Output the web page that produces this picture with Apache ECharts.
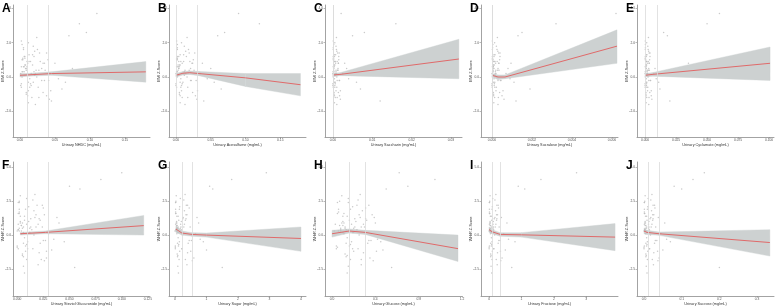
<!DOCTYPE html>
<html>
<head>
<meta charset="utf-8">
<script src="https://cdn.jsdelivr.net/npm/echarts@6.0.0/dist/echarts.min.js"></script>
<style>
html, body { margin: 0; padding: 0; background: #fff; }
#chart { width: 779px; height: 306px; }
</style>
</head>
<body>
<div id="chart"></div>
<script>
var myChart = echarts.init(document.getElementById('chart'));

// outcome values (shared by every panel of a row)
var yTop = [0.3,-0.8,1.2,0.5,-0.2,2.1,0.9,-1.3,0.1,1.6,-0.5,0.7,3.1,-1.0,0.4,1.9,-0.1,0.8,-1.6,1.1,0.2,2.6,-0.6,0.6,1.4,-0.3,0.0,1.8,-1.1,0.9,3.7,0.3,-0.9,1.3,0.5,-0.4,2.3,0.7,-1.4,0.2,1.0,-0.7,1.5,0.4,-0.2,2.0,0.6,-1.2,0.8,1.2,
	0.6,-0.4,1.0,0.2,-1.1,0.8,0.1,1.3,-0.6,0.4,0.9,-0.2,1.7,0.3,-0.9,0.5,1.1,-0.5,0.0,0.7,-1.5,1.4,0.2,-0.3,0.9,0.6,-0.8,1.2,0.4,-0.1,2.4,0.3,-1.2,0.8,0.5,-0.6,1.6,0.1,-0.3,1.0];
var yBot = [0.5,-1.2,1.8,0.3,-0.6,2.4,1.0,-1.9,0.2,1.5,-0.9,0.8,4.6,-1.5,0.6,2.9,-0.3,1.2,-2.2,1.6,0.1,3.4,-1.0,0.7,2.0,-0.5,0.4,2.6,-1.7,1.1,4.1,0.3,-1.3,1.9,0.9,-0.8,3.0,0.6,-2.4,0.2,1.4,-1.1,2.2,0.5,-0.4,2.7,0.8,-1.8,1.3,-2.8,
	0.9,-0.7,1.6,0.4,-1.6,1.2,0.1,2.1,-1.0,0.6,1.4,-0.4,2.5,0.5,-1.4,0.8,1.7,-0.8,0.0,1.0,-2.3,2.2,0.3,-0.5,1.3,0.9,-1.2,1.9,0.6,-0.2,3.6,0.4,-1.8,1.1,0.7,-1.0,2.4,0.2,-0.6,1.5];

// exposure values per panel
var xA = [0.004,0.012,0.02,0.008,0.031,0.002,0.015,0.042,0.006,0.025,0.001,0.018,0.085,0.009,0.036,0.003,0.055,0.011,0.022,0.007,0.048,0.095,0.014,0.005,0.028,0.065,0.003,0.019,0.038,0.01,0.11,0.006,0.033,0.013,0.075,0.002,0.024,0.008,0.045,0.016,0.004,0.06,0.021,0.009,0.035,0.012,0.002,0.027,0.05,0.007,
	0.006,0.015,0.003,0.022,0.011,0.035,0.008,0.018,0.002,0.027,0.013,0.041,0.005,0.02,0.009,0.031,0.004,0.016,0.024,0.007,0.012,0.038,0.001,0.019,0.029,0.01,0.044,0.006,0.023,0.014,0.07,0.003,0.017,0.033,0.009,0.026,0.005,0.021,0.012,0.04];
var xB = [0.002,0.008,0.015,0.004,0.022,0.001,0.011,0.03,0.003,0.018,0.0,0.006,0.12,0.005,0.026,0.002,0.045,0.009,0.013,0.001,0.035,0.07,0.007,0.003,0.019,0.055,0.002,0.012,0.028,0.004,0.09,0.001,0.024,0.006,0.05,0.0,0.016,0.005,0.04,0.01,0.002,0.065,0.014,0.003,0.021,0.008,0.001,0.017,0.038,0.004,
	0.003,0.009,0.001,0.014,0.006,0.024,0.004,0.011,0.001,0.019,0.007,0.029,0.002,0.012,0.005,0.021,0.002,0.008,0.016,0.003,0.006,0.027,0.0,0.01,0.02,0.005,0.031,0.002,0.013,0.007,0.06,0.001,0.009,0.023,0.004,0.017,0.002,0.012,0.006,0.025];
var xC = [0.0003,0.0008,0.0015,0.0002,0.0011,0.0001,0.0006,0.0019,0.0004,0.0009,0.0,0.0005,0.016,0.0003,0.0013,0.0002,0.004,0.0007,0.001,0.0001,0.0025,0.008,0.0005,0.0002,0.0012,0.006,0.0001,0.0008,0.0017,0.0003,0.0021,0.0001,0.0014,0.0004,0.0035,0.0,0.0009,0.0003,0.012,0.0006,0.0002,0.007,0.001,0.0002,0.0016,0.0005,0.0001,0.0011,0.003,0.0004,
	0.0002,0.0006,0.0001,0.0009,0.0004,0.0014,0.0003,0.0007,0.0001,0.0012,0.0005,0.0017,0.0001,0.0008,0.0003,0.0013,0.0002,0.0005,0.001,0.0002,0.0004,0.0016,0.0,0.0006,0.0011,0.0003,0.0019,0.0001,0.0008,0.0004,0.005,0.0001,0.0006,0.0014,0.0002,0.001,0.0001,0.0007,0.0004,0.0015];
var xD = [0.00005,0.0002,0.0004,0.0001,0.0003,0.00002,0.00015,0.0006,0.0001,0.00025,0.0,0.00012,0.0032,0.00008,0.00035,0.00004,0.0009,0.00018,0.0003,0.00003,0.0007,0.0015,0.00014,0.00006,0.00033,0.0011,0.00002,0.00022,0.0005,0.00009,0.0062,0.00003,0.00038,0.0001,0.0008,0.0,0.00027,0.00007,0.0012,0.00016,0.00005,0.0019,0.00029,0.00006,0.00045,0.00013,0.00002,0.00032,0.00095,0.0001,
	0.00004,0.00012,0.00002,0.0002,0.00008,0.00035,0.00006,0.00015,0.00001,0.00028,0.0001,0.00042,0.00003,0.00017,0.00007,0.0003,0.00002,0.00011,0.00024,0.00005,0.00009,0.0004,0.0,0.00014,0.00026,0.00006,0.00055,0.00002,0.00019,0.0001,0.0013,0.00003,0.00013,0.00033,0.00005,0.00022,0.00002,0.00016,0.00008,0.00038];
var xE = [0.0005,0.002,0.004,0.001,0.003,0.0002,0.0015,0.0055,0.0008,0.0025,0.0,0.0012,0.05,0.0007,0.0035,0.0003,0.009,0.0018,0.003,0.0003,0.007,0.015,0.0014,0.0006,0.0033,0.011,0.0002,0.0022,0.005,0.0009,0.06,0.0003,0.0038,0.001,0.008,0.0,0.0027,0.0007,0.02,0.0016,0.0005,0.012,0.0029,0.0006,0.0045,0.0013,0.0002,0.0032,0.035,0.001,
	0.0004,0.0012,0.0002,0.002,0.0008,0.0034,0.0006,0.0015,0.0001,0.0027,0.001,0.0042,0.0003,0.0017,0.0007,0.003,0.0002,0.0011,0.0024,0.0005,0.0009,0.004,0.0,0.0014,0.0026,0.0006,0.005,0.0002,0.0019,0.001,0.018,0.0003,0.0013,0.0033,0.0005,0.0022,0.0002,0.0016,0.0008,0.0037];
var xF = [0.002,0.008,0.016,0.004,0.022,0.001,0.011,0.026,0.006,0.018,0.0,0.009,0.1,0.005,0.024,0.003,0.035,0.013,0.02,0.002,0.03,0.06,0.01,0.004,0.025,0.045,0.001,0.015,0.028,0.007,0.08,0.002,0.021,0.008,0.04,0.0,0.017,0.006,0.055,0.012,0.003,0.033,0.019,0.005,0.027,0.009,0.001,0.023,0.038,0.007,
	0.003,0.009,0.001,0.014,0.006,0.021,0.004,0.011,0.001,0.018,0.007,0.025,0.002,0.012,0.005,0.02,0.002,0.008,0.016,0.003,0.006,0.024,0.0,0.01,0.017,0.005,0.028,0.002,0.013,0.007,0.05,0.001,0.009,0.022,0.004,0.015,0.002,0.012,0.006,0.026];
var xG = [0.05,0.15,0.3,0.08,0.42,0.02,0.2,0.55,0.1,0.35,0.01,0.18,2.9,0.09,0.48,0.04,0.8,0.25,0.38,0.03,0.65,1.2,0.22,0.07,0.45,0.9,0.03,0.28,0.6,0.12,1.8,0.04,0.4,0.14,0.75,0.01,0.32,0.1,1.5,0.24,0.06,1.0,0.36,0.08,0.52,0.17,0.02,0.33,0.7,0.11,
	0.04,0.12,0.02,0.2,0.08,0.35,0.06,0.15,0.01,0.28,0.1,0.45,0.03,0.17,0.07,0.3,0.02,0.11,0.24,0.05,0.09,0.4,0.0,0.14,0.26,0.06,0.5,0.02,0.19,0.1,1.1,0.03,0.13,0.33,0.05,0.22,0.02,0.16,0.08,0.38];
var xH = [0.12,0.2,0.28,0.08,0.33,0.15,0.22,0.38,0.1,0.25,0.05,0.18,0.62,0.14,0.3,0.09,0.42,0.21,0.27,0.11,0.36,0.5,0.19,0.07,0.31,0.45,0.13,0.24,0.35,0.16,0.95,0.06,0.29,0.17,0.4,0.04,0.26,0.12,0.55,0.2,0.1,0.47,0.23,0.08,0.34,0.15,0.03,0.27,0.39,0.14,
	0.09,0.17,0.05,0.23,0.13,0.31,0.11,0.19,0.04,0.27,0.14,0.36,0.07,0.2,0.12,0.29,0.06,0.16,0.25,0.1,0.15,0.34,0.02,0.18,0.26,0.11,0.41,0.06,0.21,0.14,0.7,0.08,0.17,0.32,0.1,0.24,0.05,0.19,0.13,0.37];
var xI = [0.03,0.1,0.2,0.05,0.28,0.01,0.13,0.36,0.07,0.23,0.0,0.12,2.7,0.06,0.31,0.03,0.6,0.16,0.25,0.02,0.45,1.1,0.14,0.05,0.29,0.8,0.02,0.18,0.4,0.08,1.6,0.03,0.26,0.09,0.55,0.01,0.21,0.07,0.7,0.15,0.04,0.5,0.24,0.06,0.34,0.11,0.01,0.22,0.38,0.08,
	0.02,0.08,0.01,0.14,0.05,0.24,0.04,0.1,0.0,0.19,0.07,0.3,0.02,0.12,0.05,0.21,0.01,0.07,0.17,0.03,0.06,0.28,0.0,0.09,0.18,0.04,0.35,0.01,0.13,0.07,0.9,0.02,0.09,0.23,0.03,0.15,0.01,0.11,0.05,0.26];
var xJ = [0.003,0.01,0.02,0.005,0.028,0.001,0.013,0.037,0.007,0.023,0.0,0.012,0.16,0.006,0.031,0.003,0.06,0.016,0.025,0.002,0.045,0.1,0.014,0.005,0.029,0.07,0.002,0.018,0.04,0.008,0.13,0.003,0.026,0.009,0.055,0.001,0.021,0.007,0.2,0.015,0.004,0.05,0.024,0.006,0.034,0.011,0.001,0.022,0.038,0.008,
	0.002,0.008,0.001,0.014,0.005,0.024,0.004,0.01,0.0,0.019,0.007,0.03,0.002,0.012,0.005,0.021,0.001,0.007,0.017,0.003,0.006,0.028,0.0,0.009,0.018,0.004,0.036,0.001,0.013,0.007,0.08,0.002,0.009,0.023,0.003,0.015,0.001,0.011,0.005,0.026];

// fitted curves with 95% CI
var fitXA = [0, 0.01, 0.045, 0.18];    var fitYA = [0.1, 0.12, 0.2, 0.3];     var loA = [0.0, 0.05, 0.1, -0.3];   var hiA = [0.2, 0.2, 0.3, 0.9];
var fitXB = [0, 0.01, 0.02, 0.033, 0.1, 0.179]; var fitYB = [0.1, 0.22, 0.25, 0.2, -0.05, -0.45]; var loB = [0.0, 0.12, 0.15, 0.08, -0.55, -1.1]; var hiB = [0.2, 0.32, 0.35, 0.32, 0.2, 0.2];
var fitXC = [0, 0.0018, 0.032];        var fitYC = [0.12, 0.15, 1.05];        var loC = [0.02, 0.08, -0.1];      var hiC = [0.22, 0.25, 2.2];
var fitXD = [0, 0.0003, 0.00065, 0.00625]; var fitYD = [0.1, 0.0, 0.0, 1.8]; var loD = [0.0, -0.15, -0.1, 0.8]; var hiD = [0.2, 0.12, 0.12, 2.75];
var fitXE = [0, 0.0056, 0.1008];       var fitYE = [0.1, 0.15, 0.8];          var loE = [0.0, 0.05, -0.2];       var hiE = [0.2, 0.25, 1.75];
var fitXF = [0.003, 0.027, 0.121];     var fitYF = [0.1, 0.2, 0.7];           var loF = [0.0, 0.1, 0.0];         var hiF = [0.2, 0.3, 1.45];
var fitXG = [0.03, 0.22, 0.54, 1.0, 4.0]; var fitYG = [0.45, 0.15, 0.05, 0.0, -0.25]; var loG = [0.2, 0.0, -0.08, -0.15, -1.2]; var hiG = [0.7, 0.3, 0.18, 0.15, 0.6];
var fitXH = [0, 0.158, 0.307, 1.163];  var fitYH = [0.1, 0.3, 0.2, -1.0];     var loH = [-0.15, 0.15, 0.05, -1.95]; var hiH = [0.35, 0.45, 0.35, 0.0];
var fitXI = [0, 0.09, 0.34, 1.0, 3.89]; var fitYI = [0.4, 0.25, 0.05, 0.02, -0.15]; var loI = [0.2, 0.1, -0.08, -0.15, -1.15]; var hiI = [0.6, 0.4, 0.18, 0.18, 0.85];
var fitXJ = [0, 0.008, 0.04, 0.334];   var fitYJ = [0.3, 0.2, 0.1, -0.55];    var loJ = [0.1, 0.05, -0.02, -1.55]; var hiJ = [0.5, 0.35, 0.22, 0.4];

// knots (vertical reference lines)
var cutsA = [0.01, 0.045]; var cutsB = [0.001, 0.033]; var cutsC = [0.0003, 0.0018];
var cutsD = [0.00002, 0.00065]; var cutsE = [0.0002, 0.0056]; var cutsF = [0.0066, 0.027];
var cutsG = [0.22, 0.54]; var cutsH = [0.158, 0.307]; var cutsI = [0.09, 0.34]; var cutsJ = [0.008, 0.04];

// tick labels
var yTicksTop = [-2, 0, 2, 4];
var yTicksBot = [-2.5, 0, 2.5, 5];
var ticksA = [0, 0.05, 0.10, 0.15];
var ticksB = [0, 0.05, 0.10, 0.15];
var ticksC = [0, 0.01, 0.02, 0.03];
var ticksD = [0, 0.002, 0.004, 0.006];
var ticksE = [0, 0.025, 0.05, 0.075, 0.1];
var ticksF = [0, 0.025, 0.05, 0.075, 0.1, 0.125];
var ticksG = [0, 1, 2, 3, 4];
var ticksH = [0, 0.4, 0.8, 1.2];
var ticksI = [0, 1, 2, 3, 4];
var ticksJ = [0, 0.1, 0.2, 0.3];

var panels = [
	{ tag: 'A', row: 0, col: 0, name: 'Urinary NHDC (mg/mL)', min: -0.01, max: 0.186, ticks: ticksA, dec: 2, xs: xA, cuts: cutsA, fx: fitXA, fy: fitYA, lo: loA, hi: hiA },
	{ tag: 'B', row: 0, col: 1, name: 'Urinary Acesulfame (mg/mL)', min: -0.01, max: 0.187, ticks: ticksB, dec: 2, xs: xB, cuts: cutsB, fx: fitXB, fy: fitYB, lo: loB, hi: hiB },
	{ tag: 'C', row: 0, col: 2, name: 'Urinary Saccharin (mg/mL)', min: -0.002, max: 0.0328, ticks: ticksC, dec: 2, xs: xC, cuts: cutsC, fx: fitXC, fy: fitYC, lo: loC, hi: hiC },
	{ tag: 'D', row: 0, col: 3, name: 'Urinary Sucralose (mg/mL)', min: -0.00055, max: 0.0063, ticks: ticksD, dec: 3, xs: xD, cuts: cutsD, fx: fitXD, fy: fitYD, lo: loD, hi: hiD },
	{ tag: 'E', row: 0, col: 4, name: 'Urinary Cyclamate (mg/mL)', min: -0.0065, max: 0.104, ticks: ticksE, dec: 3, xs: xE, cuts: cutsE, fx: fitXE, fy: fitYE, lo: loE, hi: hiE },
	{ tag: 'F', row: 1, col: 0, name: 'Urinary Steviol Glucuronide (mg/mL)', min: -0.004, max: 0.127, ticks: ticksF, dec: 3, xs: xF, cuts: cutsF, fx: fitXF, fy: fitYF, lo: loF, hi: hiF },
	{ tag: 'G', row: 1, col: 1, name: 'Urinary Sugar (mg/mL)', min: -0.19, max: 4.16, ticks: ticksG, dec: 0, xs: xG, cuts: cutsG, fx: fitXG, fy: fitYG, lo: loG, hi: hiG },
	{ tag: 'H', row: 1, col: 2, name: 'Urinary Glucose (mg/mL)', min: -0.065, max: 1.2, ticks: ticksH, dec: 1, xs: xH, cuts: cutsH, fx: fitXH, fy: fitYH, lo: loH, hi: hiH },
	{ tag: 'I', row: 1, col: 3, name: 'Urinary Fructose (mg/mL)', min: -0.25, max: 3.98, ticks: ticksI, dec: 0, xs: xI, cuts: cutsI, fx: fitXI, fy: fitYI, lo: loI, hi: hiI },
	{ tag: 'J', row: 1, col: 4, name: 'Urinary Sucrose (mg/mL)', min: -0.0186, max: 0.345, ticks: ticksJ, dec: 1, xs: xJ, cuts: cutsJ, fx: fitXJ, fy: fitYJ, lo: loJ, hi: hiJ }
];

var rowInfo = [
	{ top: 5, height: 132, ymin: -3.5, ymax: 4.2, ticks: yTicksTop, ys: yTop, yName: 'BMI Z-Score' },
	{ top: 162, height: 134, ymin: -4.5, ymax: 5.4, ticks: yTicksBot, ys: yBot, yName: 'WHtR Z-Score' }
];

var axisColor = '#8c8c8c';
var bandColor = '#cdd1d1';
var labelStyle = { fontSize: 3.3, color: '#555', margin: 2, fontFamily: 'Liberation Sans' };
var nameStyle = { fontSize: 3.8, color: '#333', fontFamily: 'Liberation Sans' };

function pairs(a, b) {
	return a.map(function(v, i) { return [v, b[i]]; });
}

var grids = [], xAxes = [], yAxes = [], series = [], titles = [];

panels.forEach(function(p, i) {
	var r = rowInfo[p.row];
	var left = 13 + 156 * p.col;
	grids.push({ left: left, top: r.top, width: 137, height: r.height, outerBoundsMode: 'none', containLabel: false });

	xAxes.push({
		type: 'value', gridIndex: i, min: p.min, max: p.max,
		name: p.name, nameLocation: 'middle', nameGap: 6, nameTextStyle: nameStyle,
		axisLine: { show: true, onZero: false, lineStyle: { color: axisColor, width: 0.8 } },
		axisTick: { show: true, length: 1.5, customValues: p.ticks, lineStyle: { color: axisColor, width: 0.6 } },
		axisLabel: Object.assign({ customValues: p.ticks, formatter: function(v) { return v.toFixed(p.dec); } }, labelStyle),
		splitLine: { show: false }
	});

	yAxes.push({
		type: 'value', gridIndex: i, min: r.ymin, max: r.ymax,
		name: r.yName, nameLocation: 'middle', nameGap: 8, nameMoveOverlap: false, nameTextStyle: nameStyle,
		axisLine: { show: true, onZero: false, lineStyle: { color: axisColor, width: 0.8 } },
		axisTick: { show: true, length: 1.5, customValues: r.ticks, lineStyle: { color: axisColor, width: 0.6 } },
		axisLabel: Object.assign({ customValues: r.ticks, formatter: function(v) { return v.toFixed(1); } }, labelStyle),
		splitLine: { show: false }
	});

	// confidence band, one quad per curve segment
	series.push({
		type: 'custom', xAxisIndex: i, yAxisIndex: i, silent: true, z: 1,
		data: p.fx.map(function(v, k) { return [v, p.lo[k], p.hi[k]]; }),
		encode: { x: 0, y: [1, 2] },
		renderItem: function(params, api) {
			var k = params.dataIndex;
			if (k >= p.fx.length - 1) return null;
			var pts = [
				api.coord([p.fx[k], p.lo[k]]),
				api.coord([p.fx[k + 1], p.lo[k + 1]]),
				api.coord([p.fx[k + 1], p.hi[k + 1]]),
				api.coord([p.fx[k], p.hi[k]])
			];
			return { type: 'polygon', shape: { points: pts }, style: { fill: bandColor, stroke: bandColor, lineWidth: 0.4 } };
		},
		markLine: {
			silent: true, symbol: 'none', label: { show: false },
			lineStyle: { color: '#dadada', width: 0.8, type: 'solid' },
			data: p.cuts.map(function(v) { return { xAxis: v }; })
		}
	});
	series.push({
		type: 'scatter', xAxisIndex: i, yAxisIndex: i,
		data: pairs(p.xs, r.ys), symbolSize: 1.5, silent: true, z: 2,
		itemStyle: { color: '#bdbdbd' }
	});
	series.push({
		type: 'line', xAxisIndex: i, yAxisIndex: i,
		data: pairs(p.fx, p.fy), symbol: 'none', silent: true, z: 3,
		lineStyle: { color: '#e06a6a', width: 1 }
	});

	titles.push({
		text: p.tag, left: left - 11, top: r.top - 2, padding: 0,
		textStyle: { fontSize: 12, fontWeight: 'bold', color: '#000', fontFamily: 'Liberation Sans' }
	});
});

var option = {
	animation: false,
	backgroundColor: '#fff',
	title: titles,
	grid: grids,
	xAxis: xAxes,
	yAxis: yAxes,
	series: series
};

myChart.setOption(option);

window.onresize = function() {
	myChart.resize();
}
</script>
</body>
</html>
